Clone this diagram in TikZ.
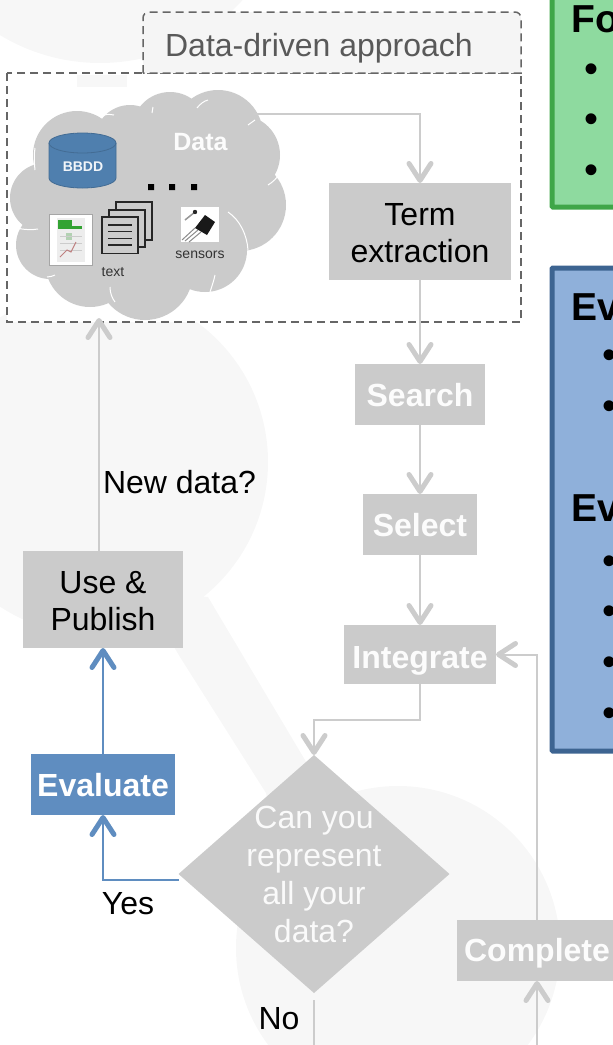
\documentclass[tikz,border=0pt]{standalone}
\usepackage{fontspec}
\setmainfont{Liberation Sans}
\usetikzlibrary{arrows.meta,shapes.geometric}
\definecolor{wm}{HTML}{F7F7F7}
\definecolor{boxgray}{HTML}{CBCBCB}
\definecolor{linegray}{HTML}{CCCCCC}
\definecolor{evalblue}{HTML}{5F8DC0}
\definecolor{greenfill}{HTML}{8EDA9F}
\definecolor{greenedge}{HTML}{3FA648}
\definecolor{bluefill}{HTML}{8FB0DA}
\definecolor{blueedge}{HTML}{3D6491}
\definecolor{dbblue}{HTML}{4F7FAE}
\newcommand{\dn}[1]{\raisebox{-2pt}[\height][\depth]{#1}}
\tikzset{
  stepbox/.style={fill=boxgray,inner sep=0pt,outer sep=0pt,align=center,font=\fontsize{32}{37}\selectfont},
  whitebold/.style={text=white!95!boxgray,font=\fontsize{32}{37}\selectfont\bfseries,text height=30pt,text depth=6pt},
  lbl/.style={inner sep=0pt,font=\fontsize{32}{37}\selectfont},
  smalllbl/.style={inner sep=0pt,text=black!80,font=\fontsize{14}{16}\selectfont},
  headlbl/.style={inner sep=0pt,anchor=base west,font=\fontsize{39}{44}\selectfont\bfseries},
  bul/.style={inner sep=0pt,yshift=-5.5pt,font=\fontsize{40}{44}\selectfont},
  conn/.style={draw=linegray,line width=2pt,-{Straight Barb[length=17pt,width=22pt,line width=5pt,round]}},
  plainconn/.style={draw=linegray,line width=2pt},
  blueconn/.style={draw=evalblue,line width=2pt,-{Straight Barb[length=17pt,width=22pt,line width=5pt,round]}},
  dashframe/.style={draw=black!60,line width=1.5pt,dash pattern=on 8pt off 5pt},
  lobe/.style={white,line width=1pt},
}
\begin{document}
\begin{tikzpicture}[x=1pt,y=-1pt]
\useasboundingbox (0,0) rectangle (613,1045);
% watermark
\fill[wm] (100,-130) circle (193);
\fill[wm] (95,462) circle (173);
\fill[wm] (398,948) circle (162);
\fill[wm] (208,597) -- (305,760) -- (420,960) -- (300,960) -- (266,793) -- (180,657) -- (140,590) -- cycle;
% dashed frames
\path[fill=white,dashframe] (7,73) rectangle (521,322);
\fill[wm] (77,75) rectangle (127,87);
\path[fill=black!4,dashframe] (143,73) -- (143,20) [rounded corners=6pt] -- (143,12) -- (521,12) [sharp corners] -- (521,73) -- cycle;
\node[lbl,text=black!65] (approach) at (319,48) {Data-driven approach};
% cloud
\begin{scope}
\fill[boxgray] (45,198) circle (35) (50,245) circle (34) (90,262) circle (45) (145,272) circle (48)
  (205,250) circle (42) (240,205) circle (46) (240,155) circle (40) (218,135) circle (45)
  (170,130) circle (38) (130,140) circle (35) (77,155) circle (44) (150,200) circle (70) (110,220) circle (50) (190,200) circle (60);
\draw[lobe] (35,170) .. controls (34,160) and (34,155) .. (35,148);
\draw[lobe] (17,228) .. controls (25,230) and (32,230) .. (38,229);
\draw[lobe] (47,277) .. controls (50,277) and (53,276) .. (55,275);
\draw[lobe] (110,287) .. controls (110,293) and (112,298) .. (115,302);
\draw[lobe] (228,212) .. controls (240,220) and (247,235) .. (248,250);
\draw[lobe] (268,185) .. controls (273,182) and (277,178) .. (280,173);
\draw[lobe] (255,120) -- (248,125);
\draw[lobe] (197,108) .. controls (200,104) and (204,101) .. (208,100);
\draw[lobe] (152,113) -- (153,107);
\draw[lobe] (100,117) .. controls (104,114) and (109,114) .. (114,115);
\draw[lobe] (210,292) .. controls (212,286) and (214,280) .. (215,275);
\end{scope}
\node[inner sep=0pt,text=white!95!boxgray,font=\fontsize{25}{28}\selectfont\bfseries] (datalbl) at (200.5,142.5) {Data};
% database
\path[fill=dbblue,draw=dbblue!85!black,line width=.8pt] (49,143) -- (49,178) arc[start angle=180,end angle=0,x radius=33.5,y radius=10] -- (116,143) arc[start angle=0,end angle=-180,x radius=33.5,y radius=10] -- cycle;
\draw[dbblue!85!black,line width=.8pt] (49,143) arc[start angle=180,end angle=0,x radius=33.5,y radius=10];
\node[inner sep=0pt,text=white!92!dbblue,font=\fontsize{14}{16}\selectfont\bfseries] (bbdd) at (83,167) {BBDD};
% dots
\fill[black] (148,184) rectangle (154,190) (169,184) rectangle (175,190) (191,184) rectangle (197,190);
% spreadsheet icon
\path[fill=white,draw=black!35,line width=1pt] (49,214) rectangle (92,265);
\fill[black!7] (57,218) rectangle (85,262);
\fill[green!55!black!80] (58,220) rectangle (72,229);
\fill[green!55!black!80] (72,226) rectangle (82,229);
\fill[green!40!black!30] (66,233) rectangle (72,240);
\draw[black!20,line width=.5pt] (60,236) -- (82,236) (60,243) -- (82,243) (60,250) -- (82,250);
\draw[red!50!black!50,line width=1pt] (60,257) -- (67,250) -- (71,252) -- (76,242);
% text stack
\path[fill=boxgray,draw=black!85,line width=1.3pt] (116,202) rectangle (152,240);
\path[fill=boxgray,draw=black!85,line width=1.3pt] (109,210) rectangle (145,247);
\path[fill=boxgray,draw=black!85,line width=1.3pt] (102,217) rectangle (138,253.5);
\draw[black!85,line width=1.2pt] (108,225) -- (132,225) (108,231.7) -- (132,231.7) (108,238.3) -- (132,238.3) (108,245) -- (132,245);
\node[smalllbl] (textlbl) at (113,272) {text};
% sensor icon
\fill[white] (181,207) rectangle (219,242);
\draw[black!45,line width=1pt] (195,228) -- (182,240) (198,230) -- (185,241) (201,232) -- (189,242);
\draw[black!40,line width=1.5pt] (195,212) -- (185,220);
\fill[black!85] (195,212) circle (2.2);
\fill[black!90] (205,215) -- (215,222) -- (207,235) -- (195,228) -- cycle;
\node[smalllbl] (senslbl) at (200,255) {sensors};
% flow boxes
\node[stepbox,minimum width=182pt,minimum height=97pt] (term) at (420,231.5) {\dn{Term}\\\dn{extraction}};
\node[stepbox,whitebold,minimum width=130pt,minimum height=61pt] (search) at (420,394.5) {Search};
\node[stepbox,whitebold,minimum width=114pt,minimum height=61pt] (select) at (420,524.5) {Select};
\node[stepbox,whitebold,text height=31pt,text depth=4pt,minimum width=152pt,minimum height=59pt] (integ) at (420,654.5) {Integrate};
\node[stepbox,whitebold,text height=29pt,text depth=7pt,minimum width=160pt,minimum height=61pt] (comp) at (537,950.5) {Complete};
\node[stepbox,minimum width=160pt,minimum height=97pt] (use) at (103,599.5) {\dn{Use \&}\\\dn{Publish}};
\node[stepbox,whitebold,text height=29pt,text depth=6pt,text=white,fill=evalblue,minimum width=144pt,minimum height=61pt] (eval) at (103,784.5) {Evaluate};
\node[diamond,fill=boxgray,inner sep=0pt,outer sep=0pt,aspect=1.139,minimum width=271pt,minimum height=238pt] (dia) at (314,874) {};
\node[lbl,align=center,text=white!90!boxgray,font=\fontsize{32}{38}\selectfont] (diatxt) at (314,874) {Can you\\represent\\all your\\data?};
% labels
\node[lbl] (newdata) at (179.5,482) {New data?};
\node[lbl] (yes) at (128,904) {Yes};
\node[lbl] (no) at (279,1019) {No};
% connector ends
\coordinate (cloudout) at (253,114);
\coordinate (framein) at (99,318);
\coordinate (noa) at (314,1000);
\coordinate (nob) at (314,1045);
\coordinate (compin) at (537,1045);
% connectors
\draw[conn] (cloudout) -| (term.north);
\draw[conn] (term.south) -- (search.north);
\draw[conn] (search.south) -- (select.north);
\draw[conn] (select.south) -- (integ.north);
\draw[conn] (integ.south) -- ++(0,36) -| (dia.north);
\draw[conn] (comp.north) |- (integ.east);
\draw[conn] (compin) -- (comp.south);
\draw[plainconn] (noa) -- (nob);
\draw[blueconn] ([yshift=-6pt]dia.west) -| (eval.south);
\draw[blueconn] (eval.north) -- (use.south);
\draw[conn] (use.north -| framein) -- (framein);
% right panels
\path[fill=greenfill,draw=greenedge,line width=5pt,rounded corners=1pt] (552,-20) rectangle (660,207);
\path[fill=bluefill,draw=blueedge,line width=5pt,rounded corners=1pt] (552,268) rectangle (660,751);
\node[headlbl] (h1) at (571,32) {Fo};
\node[headlbl] (h2) at (571,320) {Ev};
\node[headlbl] (h3) at (571,521) {Ev};
\node[bul] (b1) at (591.5,68) {•};
\node[bul] (b2) at (591.5,118) {•};
\node[bul] (b3) at (591.5,169) {•};
\node[bul] (b4) at (609,354) {•};
\node[bul] (b5) at (609,405) {•};
\node[bul] (b6) at (609,560) {•};
\node[bul] (b7) at (609,610) {•};
\node[bul] (b8) at (609,661) {•};
\node[bul] (b9) at (609,712) {•};
\end{tikzpicture}
\end{document}
